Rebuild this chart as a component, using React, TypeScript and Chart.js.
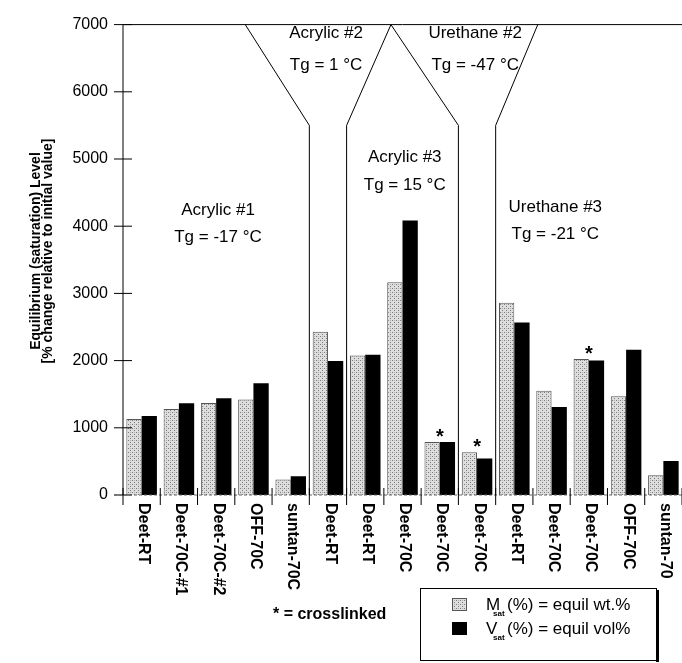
import React, { useEffect, useRef } from "react";
import { Chart, registerables } from "chart.js";

Chart.register(...registerables);

const categories = [
  "Deet-RT", "Deet-70C-#1", "Deet-70C-#2", "OFF-70C", "suntan-70C",
  "Deet-RT", "Deet-RT", "Deet-70C", "Deet-70C", "Deet-70C",
  "Deet-RT", "Deet-70C", "Deet-70C", "OFF-70C", "suntan-70",
];
const msatValues = [1130, 1280, 1370, 1420, 230, 2430, 2075, 3165, 790, 635, 2860, 1550, 2025, 1470, 295];
const vsatValues = [1175, 1365, 1440, 1662, 280, 1995, 2088, 4085, 790, 545, 2568, 1310, 2000, 2162, 505];
const crosslinkedIdx = [8, 9, 12];
const yTickValues = [0, 1000, 2000, 3000, 4000, 5000, 6000, 7000];
const groupNames = ["Acrylic #1", "Acrylic #2", "Acrylic #3", "Urethane #2", "Urethane #3"];
const groupTg = ["Tg = -17 °C", "Tg = 1 °C", "Tg = 15 °C", "Tg = -47 °C", "Tg = -21 °C"];
const yTitle = ["Equilibrium (saturation) Level", "[% change relative to initial value]"];
const legendNames = ["M", "V"];
const legendTexts = ["(%) = equil wt.%", "(%) = equil vol%"];
const crosslinkNote = "* = crosslinked";

const FONT = 'Arial, "Liberation Sans", sans-serif';

export default function App() {
  const ref = useRef<HTMLCanvasElement | null>(null);

  useEffect(() => {
    const canvas = ref.current!;
    const pc = document.createElement("canvas");
    pc.width = 4;
    pc.height = 4;
    const p = pc.getContext("2d")!;
    p.fillStyle = "#dedede";
    p.fillRect(0, 0, 4, 4);
    p.fillStyle = "#7a7a7a";
    p.fillRect(0, 0, 1, 1);
    p.fillRect(2, 2, 1, 1);
    p.fillStyle = "#b0b0b0";
    p.fillRect(2, 0, 1, 1);
    const pattern = canvas.getContext("2d")!.createPattern(pc, "repeat")!;

    const overlay = {
      id: "overlay",
      afterDraw(chart: any) {
        const { ctx, chartArea: a, scales } = chart;
        const xs = scales.x;
        const ys = scales.y;
        const bx = (b: number) => xs.getPixelForValue(b - 0.5);
        const py = (v: number) => ys.getPixelForValue(v);
        const line = (pts: number[][]) => {
          ctx.beginPath();
          pts.forEach(([u, v], i) => {
            if (i === 0) ctx.moveTo(u, v);
            else ctx.lineTo(u, v);
          });
          ctx.stroke();
        };
        ctx.save();
        ctx.strokeStyle = "#000";
        ctx.fillStyle = "#000";
        ctx.lineWidth = 1;
        // y axis line & top frame
        line([[a.left, py(0)], [a.left, py(7000)], [a.right, py(7000)]]);
        // y tick marks (crossing)
        yTickValues.forEach((v) => line([[a.left - 9, py(v)], [a.left + 9, py(v)]]));
        // x baseline (dotted)
        ctx.save();
        ctx.strokeStyle = "#666";
        ctx.setLineDash([3, 2]);
        line([[a.left - 9, py(0)], [a.right, py(0)]]);
        ctx.restore();
        // x tick marks at category boundaries
        for (let b = 0; b <= categories.length; b++) {
          line([[bx(b), py(0) - 7], [bx(b), py(0) + 10]]);
        }
        // group divider lines
        line([[bx(5), py(0)], [bx(5), py(5500)], [bx(3.28), py(7000)]]);
        line([[bx(6), py(0)], [bx(6), py(5500)], [bx(7.19), py(7000)], [bx(9), py(5500)], [bx(9), py(0)]]);
        line([[bx(10), py(0)], [bx(10), py(5500)], [bx(11.13), py(7000)]]);

        // group annotation text
        const gx = [2.55, 5.45, 7.56, 9.45, 11.6];
        const gy1 = [4240, 6872, 5020, 6872, 4284];
        const gy2 = [3828, 6400, 4607, 6400, 3872];
        ctx.textAlign = "center";
        ctx.textBaseline = "middle";
        ctx.font = `17px ${FONT}`;
        groupNames.forEach((n, i) => {
          ctx.fillText(n, bx(gx[i]), py(gy1[i]));
          ctx.fillText(groupTg[i], bx(gx[i]), py(gy2[i]));
        });

        // crosslinked stars
        ctx.font = `bold 20px ${FONT}`;
        ctx.textBaseline = "alphabetic";
        crosslinkedIdx.forEach((i) => {
          const top = py(Math.max(msatValues[i], vsatValues[i]));
          ctx.fillText("*", xs.getPixelForValue(i), top + 1);
        });

        // x labels rotated
        ctx.font = `bold 16px ${FONT}`;
        ctx.textAlign = "left";
        ctx.textBaseline = "middle";
        categories.forEach((c, i) => {
          ctx.save();
          ctx.translate(xs.getPixelForValue(i) + 2, 503);
          ctx.rotate(Math.PI / 2);
          ctx.fillText(c, 0, 0);
          ctx.restore();
        });

        // y title
        ctx.font = `bold 14px ${FONT}`;
        ctx.textAlign = "center";
        const tx = [36, 48.5];
        yTitle.forEach((t, i) => {
          ctx.save();
          ctx.translate(tx[i], 251);
          ctx.rotate(-Math.PI / 2);
          ctx.fillText(t, 0, 0);
          ctx.restore();
        });

        // crosslinked note
        ctx.textAlign = "left";
        ctx.textBaseline = "alphabetic";
        ctx.font = `bold 16px ${FONT}`;
        ctx.fillText(crosslinkNote, 273, 619);

        // legend
        ctx.lineWidth = 1;
        ctx.strokeRect(420.5, 588.5, 236, 72);
        ctx.fillRect(656, 590, 3, 72);
        ctx.fillStyle = pattern;
        ctx.fillRect(452, 598, 15, 13);
        ctx.strokeStyle = "#555";
        ctx.strokeRect(452.5, 598.5, 14, 12);
        ctx.fillStyle = "#000";
        ctx.fillRect(452, 622, 15, 13);
        const baselines = [610, 634];
        legendNames.forEach((n, i) => {
          ctx.font = `17px ${FONT}`;
          ctx.fillText(n, 486, baselines[i]);
          ctx.font = `bold 8px ${FONT}`;
          ctx.fillText("sat", 493, baselines[i] + 6);
          ctx.font = `17px ${FONT}`;
          ctx.fillText(legendTexts[i], 507, baselines[i]);
        });
        ctx.restore();
      },
    };

    const chart = new Chart(canvas, {
      type: "bar",
      data: {
        labels: categories,
        datasets: [
          {
            label: "Msat (%) = equil wt.%",
            data: msatValues,
            backgroundColor: pattern as any,
            borderColor: "#555",
            borderWidth: 1,
            barPercentage: 1,
            categoryPercentage: 0.82,
          },
          {
            label: "Vsat (%) = equil vol%",
            data: vsatValues,
            backgroundColor: "#000",
            borderWidth: 0,
            barPercentage: 1,
            categoryPercentage: 0.82,
          },
        ],
      },
      options: {
        responsive: false,
        animation: false,
        layout: { padding: { top: 19, right: 0, bottom: 0, left: 0 } },
        plugins: { legend: { display: false }, tooltip: { enabled: false } },
        scales: {
          x: {
            grid: { display: false, drawTicks: false },
            border: { display: false },
            ticks: { display: false },
            afterFit: (s: any) => {
              s.height = 168;
            },
          },
          y: {
            min: 0,
            max: 7000,
            grid: { display: false, drawTicks: false },
            border: { display: false },
            ticks: {
              stepSize: 1000,
              padding: 15,
              color: "#000",
              font: { family: FONT, size: 16 },
              callback: (v: any) => String(v),
            },
            afterFit: (s: any) => {
              s.width = 123;
            },
          },
        },
      },
      plugins: [overlay],
    });
    return () => chart.destroy();
  }, []);

  return (
    <div style={{ position: "absolute", left: 0, top: 0, width: 682, height: 663, background: "#fff" }}>
      <canvas ref={ref} width={682} height={663} style={{ width: 682, height: 663, display: "block" }} />
    </div>
  );
}
